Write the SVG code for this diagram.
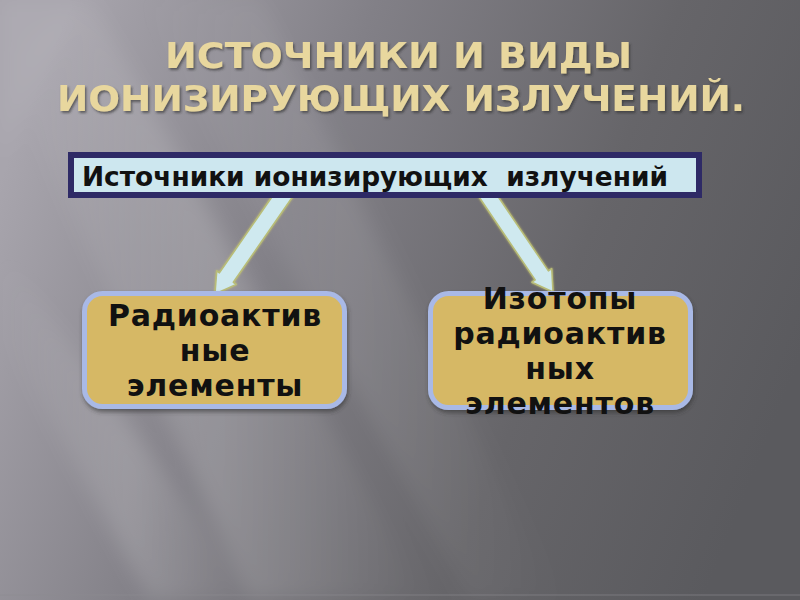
<svg xmlns="http://www.w3.org/2000/svg" width="800" height="600" viewBox="0 0 800 600">
  <defs>
    <linearGradient id="bg" x1="0" y1="0.3" x2="1" y2="0.6">
      <stop offset="0" stop-color="#a8a5ad"/>
      <stop offset="0.35" stop-color="#828087"/>
      <stop offset="0.7" stop-color="#666569"/>
      <stop offset="1" stop-color="#5a5a5e"/>
    </linearGradient>
    <linearGradient id="streak" x1="0" y1="0" x2="1" y2="0">
      <stop offset="0" stop-color="#ffffff" stop-opacity="0"/>
      <stop offset="0.5" stop-color="#ffffff" stop-opacity="0.16"/>
      <stop offset="1" stop-color="#ffffff" stop-opacity="0"/>
    </linearGradient>
    <filter id="soft" x="-20%" y="-20%" width="140%" height="140%">
      <feGaussianBlur stdDeviation="10"/>
    </filter>
    <filter id="tshadow" x="-5%" y="-20%" width="110%" height="150%">
      <feDropShadow dx="1.5" dy="2" stdDeviation="1.2" flood-color="#2a2a2a" flood-opacity="0.6"/>
    </filter>
    <filter id="bshadow" x="-10%" y="-10%" width="120%" height="130%">
      <feDropShadow dx="1" dy="3" stdDeviation="2" flood-color="#303036" flood-opacity="0.6"/>
    </filter>
    <filter id="glow" x="-20%" y="-20%" width="140%" height="140%">
      <feDropShadow dx="0" dy="0" stdDeviation="1.2" flood-color="#c9c46a" flood-opacity="0.9"/>
    </filter>
  </defs>
  <style>
    .title { font-family: "DejaVu Sans", sans-serif; font-weight: bold; font-size: 36px; fill: #e8d79e; }
    .head { font-family: "DejaVu Sans", sans-serif; font-weight: bold; font-size: 26px; fill: #111111; white-space: pre; }
    .lbl { font-family: "DejaVu Sans", sans-serif; font-weight: bold; font-size: 30px; fill: #111111; text-anchor: middle; letter-spacing: 0.8px; }
    .card { fill: #d6b865; stroke: #a9b9e6; stroke-width: 5; }
    .arrow { fill: #cfe9ef; stroke: #b8bd78; stroke-width: 1.5; stroke-linejoin: round; }
  </style>

  <!-- background -->
  <rect x="0" y="0" width="800" height="600" fill="url(#bg)"/>
  <g filter="url(#soft)">
    <polygon points="0,60 90,0 430,600 250,600" fill="url(#streak)"/>
    <polygon points="0,330 0,250 260,600 150,600" fill="url(#streak)"/>
    <polygon points="140,0 260,0 560,600 470,600" fill="url(#streak)" opacity="0.6"/>
    <polygon points="0,0 80,0 0,160" fill="#ffffff" opacity="0.06"/>
  </g>
  <line x1="0" y1="595" x2="800" y2="595" stroke="#8c8b90" stroke-width="1" opacity="0.6"/>

  <!-- title -->
  <g id="title" filter="url(#tshadow)">
    <text class="title" x="165" y="68" textLength="467" lengthAdjust="spacingAndGlyphs">ИСТОЧНИКИ И ВИДЫ</text>
    <text class="title" x="57" y="111" textLength="688" lengthAdjust="spacingAndGlyphs">ИОНИЗИРУЮЩИХ ИЗЛУЧЕНИЙ.</text>
  </g>

  <!-- connectors -->
  <g id="connectors" filter="url(#glow)">
    <polygon class="arrow" points="294,194.7 233.3,282.3 236.2,284.4 215,294 216.8,270.8 219.4,272.9 280,185.3"/>
    <polygon class="arrow" points="490.6,185.5 548.4,270.9 551.7,268.6 553,292 531.9,282.2 535.2,279.9 477.4,194.5"/>
  </g>

  <!-- top node -->
  <g id="node-sources">
    <rect x="71" y="155" width="628" height="40" fill="#cde7ef" stroke="#2e2a66" stroke-width="6"/>
    <text class="head" x="82" y="186" textLength="586" lengthAdjust="spacingAndGlyphs" xml:space="preserve">Источники ионизирующих  излучений</text>
  </g>

  <!-- left node -->
  <g id="node-radioactive">
    <rect class="card" x="84.5" y="293.5" width="260" height="113" rx="18" filter="url(#bshadow)"/>
    <text class="lbl" x="215" y="326">Радиоактив</text>
    <text class="lbl" x="215" y="361">ные</text>
    <text class="lbl" x="215" y="396">элементы</text>
  </g>

  <!-- right node -->
  <g id="node-isotopes">
    <rect class="card" x="430.5" y="293.5" width="260" height="114" rx="18" filter="url(#bshadow)"/>
    <text class="lbl" x="560" y="309">Изотопы</text>
    <text class="lbl" x="560" y="344">радиоактив</text>
    <text class="lbl" x="560" y="379">ных</text>
    <text class="lbl" x="560" y="414">элементов</text>
  </g>
</svg>
